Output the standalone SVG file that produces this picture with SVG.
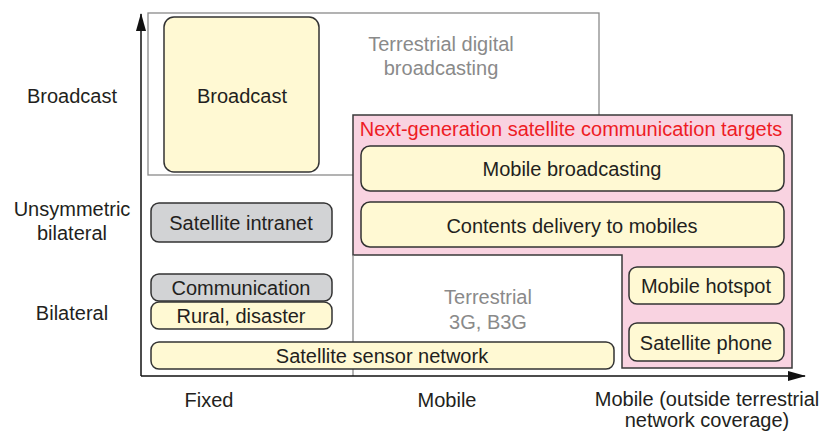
<svg xmlns="http://www.w3.org/2000/svg" width="824" height="432" viewBox="0 0 824 432">
<style>
text{font-family:"Liberation Sans",Arial,sans-serif;font-size:20px;fill:#231f20;text-anchor:middle}
.g{fill:#8a8a8a}
.red{fill:#ee1c25}
.y{fill:#fff9d3;stroke:#333;stroke-width:1.5}
.s{fill:#d2d3d5;stroke:#333;stroke-width:1.5}
.area{fill:none;stroke:#8a8a8a;stroke-width:1.3}
.ax{stroke:#111;stroke-width:1.5;fill:none}
</style>
<defs>
<marker id="ah" viewBox="0 0 18 10" refX="17" refY="5" markerWidth="18" markerHeight="10" markerUnits="userSpaceOnUse" orient="auto">
<path d="M0,0 L18,5 L0,10 Z" fill="#111"/>
</marker>
</defs>

<g id="terrestrial-digital">
<rect class="area" x="148" y="13" width="451" height="162"/>
<text class="g" x="441" y="51">Terrestrial digital</text>
<text class="g" x="441" y="75">broadcasting</text>
</g>

<g id="next-gen">
<path d="M353,115 H792 V368 H622 V255 H353 Z" fill="#f9d3e1" stroke="#3a3a3a" stroke-width="1.5"/>
<text class="red" x="571" y="136">Next-generation satellite communication targets</text>
</g>

<g id="terrestrial-3g">
<path class="area" d="M353,255 V376"/>
<text class="g" x="488" y="304">Terrestrial</text>
<text class="g" x="488" y="329">3G, B3G</text>
</g>

<g id="connectors">
<path class="ax" d="M141,376 V14" marker-end="url(#ah)"/>
<path class="ax" d="M141,376 H805" marker-end="url(#ah)"/>
</g>

<g id="broadcast-box">
<rect class="y" x="164" y="17" width="155" height="155" rx="10"/>
<text x="242" y="103">Broadcast</text>
</g>

<g id="mobile-broadcasting">
<rect class="y" x="361" y="146" width="423" height="45" rx="9"/>
<text x="572" y="176">Mobile broadcasting</text>
</g>

<g id="contents-delivery">
<rect class="y" x="361" y="202" width="423" height="45" rx="9"/>
<text x="572" y="233">Contents delivery to mobiles</text>
</g>

<g id="mobile-hotspot">
<rect class="y" x="629" y="267" width="155" height="37" rx="8"/>
<text x="706" y="293">Mobile hotspot</text>
</g>

<g id="satellite-phone">
<rect class="y" x="629" y="323" width="155" height="38" rx="8"/>
<text x="706" y="350">Satellite phone</text>
</g>

<g id="satellite-intranet">
<rect class="s" x="151" y="203" width="181" height="39" rx="8"/>
<text x="241" y="230">Satellite intranet</text>
</g>

<g id="communication">
<rect class="s" x="151" y="274" width="181" height="27" rx="8"/>
<text x="241" y="295">Communication</text>
</g>

<g id="rural-disaster">
<rect class="y" x="151" y="302" width="181" height="27" rx="8"/>
<text x="241" y="323">Rural, disaster</text>
</g>

<g id="sensor-network">
<rect class="y" x="151" y="342" width="463" height="27" rx="8"/>
<text x="382" y="363">Satellite sensor network</text>
</g>

<g id="labels">
<text x="72" y="103">Broadcast</text>
<text x="72" y="216">Unsymmetric</text>
<text x="72" y="240">bilateral</text>
<text x="72" y="320">Bilateral</text>
<text x="209" y="407">Fixed</text>
<text x="447" y="407">Mobile</text>
<text x="707" y="406">Mobile (outside terrestrial</text>
<text x="707" y="427">network coverage)</text>
</g>
</svg>
